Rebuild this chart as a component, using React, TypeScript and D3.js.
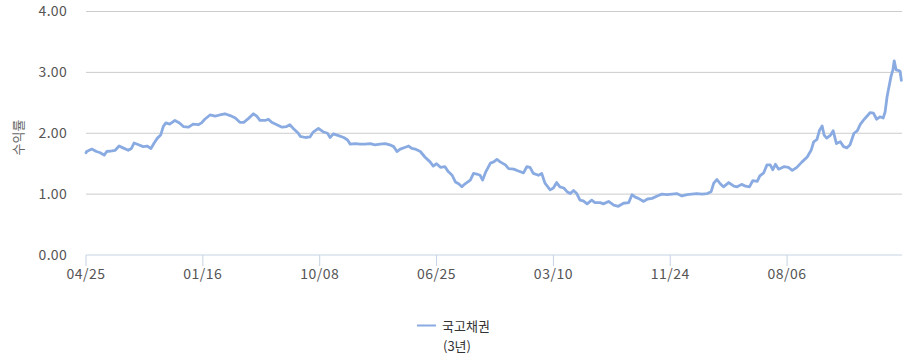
import React from "react";
import * as d3 from "d3";

// trading-day index of each sampled point
const dayIndex = [
  0, 1, 9, 16, 22, 28, 32, 40, 45, 51, 57, 65, 70, 74, 81, 88, 94, 100, 105, 110, 115, 119, 123, 129, 137, 144, 150, 158, 165, 173, 178, 183, 191, 199, 206, 214, 222, 230, 237, 243,
  250, 258, 263, 268, 276, 281, 286, 294, 302, 309, 314, 321, 327, 330, 338, 345, 350, 358, 366, 372, 376, 381, 389, 397, 403, 407, 415, 422, 430, 438, 445, 453, 461, 468, 474, 479, 484, 492, 497,
  502, 507, 515, 522, 530, 535, 540, 546, 553, 558, 564, 569, 574, 579, 584, 592, 597, 602, 607, 611, 616, 623, 628, 633, 638, 646, 651, 659, 666, 674, 679, 684, 689, 697, 702, 707, 715, 720, 725, 730,
  736, 741, 746, 751, 756, 761, 766, 772, 779, 784, 792, 797, 805, 813, 820, 828, 836, 841, 846, 851, 859, 865, 872, 880, 887, 895, 903, 910, 918, 926, 933, 941, 949, 957, 963, 967, 972, 977, 982, 990,
  998, 1003, 1010, 1016, 1022, 1027, 1034, 1038, 1044, 1049, 1054, 1058, 1062, 1067, 1075, 1082, 1088, 1095, 1103, 1111, 1117, 1121, 1126, 1130, 1134, 1137, 1141, 1147, 1151, 1156, 1162, 1167, 1172, 1177,
  1183, 1188, 1193, 1198, 1203, 1208, 1213, 1218, 1223, 1228, 1231, 1234, 1236, 1240, 1243, 1245, 1248, 1252, 1254, 1256,
];

// 국고채권(3년) yield, %
const yields = [
  1.68, 1.70, 1.74, 1.70, 1.68, 1.64, 1.70, 1.71, 1.72, 1.79, 1.76, 1.72, 1.75, 1.84, 1.81, 1.78, 1.79, 1.75, 1.84, 1.92, 1.97, 2.11, 2.17, 2.15, 2.21, 2.17, 2.11, 2.10, 2.15, 2.14, 2.17, 2.23, 2.30, 2.28, 2.30, 2.32, 2.29, 2.25, 2.18, 2.18,
  2.24, 2.32, 2.28, 2.21, 2.21, 2.23, 2.18, 2.14, 2.10, 2.11, 2.14, 2.06, 2.00, 1.95, 1.93, 1.94, 2.02, 2.08, 2.02, 2.00, 1.93, 1.99, 1.96, 1.93, 1.89, 1.82, 1.83, 1.82, 1.82, 1.83, 1.81, 1.82, 1.83, 1.81, 1.78, 1.70, 1.74, 1.77, 1.79,
  1.75, 1.74, 1.70, 1.61, 1.53, 1.46, 1.50, 1.44, 1.45, 1.37, 1.31, 1.20, 1.17, 1.12, 1.17, 1.23, 1.34, 1.33, 1.31, 1.23, 1.37, 1.51, 1.53, 1.57, 1.53, 1.48, 1.42, 1.41, 1.38, 1.35, 1.45, 1.44, 1.34, 1.31, 1.34, 1.18, 1.07, 1.10, 1.19, 1.12,
  1.10, 1.04, 1.01, 1.06, 1.01, 0.90, 0.89, 0.84, 0.90, 0.86, 0.86, 0.84, 0.88, 0.82, 0.80, 0.85, 0.86, 0.99, 0.95, 0.93, 0.88, 0.92, 0.93, 0.97, 1.00, 0.99, 1.00, 1.01, 0.97, 0.99, 1.00, 1.01, 1.00, 1.01, 1.04, 1.18, 1.24, 1.17, 1.12, 1.19,
  1.13, 1.12, 1.16, 1.13, 1.12, 1.22, 1.21, 1.30, 1.35, 1.48, 1.48, 1.40, 1.49, 1.41, 1.45, 1.44, 1.39, 1.44, 1.53, 1.61, 1.72, 1.86, 1.90, 2.05, 2.12, 1.97, 1.92, 1.97, 2.04, 1.83, 1.86, 1.78, 1.76, 1.81,
  2.00, 2.04, 2.15, 2.22, 2.28, 2.34, 2.33, 2.23, 2.27, 2.25, 2.35, 2.60, 2.71, 2.93, 3.04, 3.19, 3.04, 3.03, 3.02, 2.87,
];

const tickIndex = [0, 180, 360, 540, 720, 900, 1080];
const tickLabels = ["04/25", "01/16", "10/08", "06/25", "03/10", "11/24", "08/06"];
const yTicks = [0, 1, 2, 3, 4];
const seriesName = "국고채권";
const seriesSub = "(3년)";
const yTitle = "수익률";

const W = 917;
const H = 361;
const FONT = "'Noto Sans CJK KR', 'Noto Sans', sans-serif";
const LINE = "#8aabe2";

export default function App() {
  const x = d3.scaleLinear().domain([0, 1257]).range([86, 902]);
  const y = d3.scaleLinear().domain([0, 4]).range([255, 11.5]);
  const pts = dayIndex.map((d, i) => [d, yields[i]] as [number, number]);
  const line = d3
    .line<[number, number]>()
    .x((d) => x(d[0]))
    .y((d) => y(d[1]))
    .curve(d3.curveLinear);

  return (
    <svg
      width={W}
      height={H}
      style={{ position: "absolute", left: 0, top: 0, background: "#fff" }}
      fontFamily={FONT}
    >
      {yTicks.map((t) => (
        <g key={t}>
          {t > 0 && (
            <line x1={86} x2={902} y1={y(t)} y2={y(t)} stroke="#cccccc" strokeWidth={1} />
          )}
          <text x={67} y={y(t)} dy="0.35em" textAnchor="end" fontSize={14} fill="#555" letterSpacing={0.3}>
            {t.toFixed(2)}
          </text>
        </g>
      ))}
      <line x1={86} x2={902} y1={255} y2={255} stroke="#c6d3e3" strokeWidth={1} />
      {tickIndex.map((t, i) => (
        <g key={t}>
          <line x1={x(t)} x2={x(t)} y1={255} y2={266} stroke="#c6d3e3" strokeWidth={1} />
          <text x={x(t)} y={274} dy="0.35em" textAnchor="middle" fontSize={14} fill="#555" letterSpacing={0.5}>
            {tickLabels[i]}
          </text>
        </g>
      ))}
      <text
        transform={`translate(18, ${y(1.93)}) rotate(-90)`}
        textAnchor="middle"
        dy="0.35em"
        fontSize={13}
        fill="#666"
      >
        {yTitle}
      </text>
      <path
        d={line(pts) || ""}
        fill="none"
        stroke={LINE}
        strokeWidth={2.8}
        strokeLinejoin="round"
        strokeLinecap="round"
      />
      <line x1={417} x2={436} y1={325.5} y2={325.5} stroke={LINE} strokeWidth={2} />
      <text x={442} y={326} dy="0.35em" fontSize={13} fill="#333">
        {seriesName}
      </text>
      <text x={443} y={346} dy="0.35em" fontSize={13} fill="#333">
        {seriesSub}
      </text>
    </svg>
  );
}
